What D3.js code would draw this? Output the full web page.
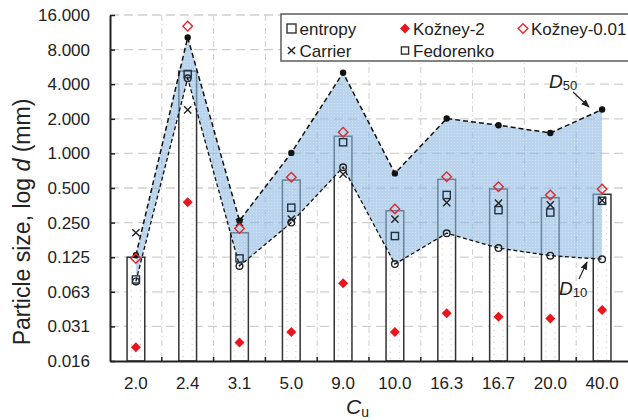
<!DOCTYPE html>
<html>
<head>
<meta charset="utf-8">
<script src="https://cdn.jsdelivr.net/npm/d3@7"></script>
<style>
  html, body { margin: 0; padding: 0; background: #fff; }
  svg { display: block; font-family: "Liberation Sans", Arial, sans-serif; }
</style>
</head>
<body>
<svg id="chart" width="628" height="420"></svg>
<script>
// Uniformity coefficient categories
const categories = ["2.0", "2.4", "3.1", "5.0", "9.0", "10.0", "16.3", "16.7", "20.0", "40.0"];

// Characteristic grain sizes (mm)
const d50 = [0.13, 10.2, 0.26, 1.01, 5.03, 0.67, 2.01, 1.76, 1.505, 2.41];
const d10 = [0.077, 4.5, 0.105, 0.25, 0.758, 0.109, 0.202, 0.15, 0.129, 0.12];

// Effective pore-size estimates (mm)
const entropy    = [0.125, 5.2, 0.204, 0.586, 1.41, 0.317, 0.595, 0.49, 0.412, 0.441];
const kozney2    = [0.0206, 0.376, 0.0226, 0.028, 0.0741, 0.028, 0.0406, 0.038, 0.0367, 0.0433];
const kozney001  = [0.122, 12.8, 0.222, 0.62, 1.53, 0.328, 0.627, 0.513, 0.435, 0.49];
const carrier    = [0.204, 2.39, 0.25, 0.268, 0.66, 0.268, 0.373, 0.369, 0.356, 0.39];
const fedorenko  = [0.08, 4.9, 0.122, 0.337, 1.25, 0.191, 0.435, 0.321, 0.306, 0.387];

// Log-2 axis ticks
const yTicks      = [16, 8, 4, 2, 1, 0.5, 0.25, 0.125, 0.0625, 0.03125, 0.015625];
const yTickLabels = ["16.000", "8.000", "4.000", "2.000", "1.000", "0.500", "0.250", "0.125", "0.063", "0.031", "0.016"];

const svg = d3.select("#chart");
const plotL = 110, plotR = 628, plotT = 15, plotB = 361;

const x = d3.scaleBand().domain(categories).range([plotL, plotR]).padding(0);
const y = d3.scaleLog().base(2).domain([0.015625, 16]).range([plotB, plotT]);
const cx = i => x(categories[i]) + x.bandwidth() / 2;
const barW = x.bandwidth() * 0.342;

const defs = svg.append("defs");
const grain = defs.append("pattern")
  .attr("id", "bandGrain").attr("patternUnits", "userSpaceOnUse")
  .attr("width", 3).attr("height", 3);
grain.append("rect").attr("width", 3).attr("height", 3).attr("fill", "#8ab8e0");
grain.append("rect").attr("x", 1).attr("y", 1).attr("width", 1).attr("height", 1)
  .attr("fill", "#ffffff").attr("opacity", 0.35);

// Horizontal grid
svg.append("g").selectAll("line").data(yTicks.slice(0, -1)).join("line")
  .attr("x1", plotL).attr("x2", plotR)
  .attr("y1", d => y(d)).attr("y2", d => y(d))
  .attr("stroke", "#cfcfcf").attr("stroke-width", 1.3)
  .attr("stroke-dasharray", "9,5");

// Vertical grid at category boundaries
const bounds = categories.slice(1).map(c => x(c));
svg.append("g").selectAll("line").data(bounds).join("line")
  .attr("x1", d => d).attr("x2", d => d)
  .attr("y1", plotT).attr("y2", plotB)
  .attr("stroke", "#cfcfcf").attr("stroke-width", 1)
  .attr("stroke-dasharray", "6,3,1,3");

// Entropy bars
const bars = svg.append("g");
bars.selectAll("rect").data(entropy).join("rect")
  .attr("x", (d, i) => cx(i) - barW / 2)
  .attr("y", d => y(d))
  .attr("width", barW)
  .attr("height", d => plotB - y(d))
  .attr("fill", "#ffffff")
  .attr("stroke", "#333")
  .attr("stroke-width", 1.5);
[-4.5, 4.5].forEach(off => {
  bars.append("g").selectAll("line").data(entropy).join("line")
    .attr("x1", (d, i) => cx(i) + off).attr("x2", (d, i) => cx(i) + off)
    .attr("y1", d => y(d) + 3).attr("y2", plotB)
    .attr("stroke", "#c4c4c4").attr("stroke-width", 1)
    .attr("stroke-dasharray", "1,5");
});

// D10–D50 band
const idx = d3.range(categories.length);
svg.append("path")
  .datum(idx)
  .attr("d", d3.area().x(i => cx(i)).y0(i => y(d10[i])).y1(i => y(d50[i])))
  .attr("fill", "url(#bandGrain)")
  .attr("opacity", 0.6);

// D50 and D10 curves
svg.append("path").datum(idx)
  .attr("d", d3.line().x(i => cx(i)).y(i => y(d50[i])))
  .attr("fill", "none").attr("stroke", "#111").attr("stroke-width", 1.5)
  .attr("stroke-dasharray", "5,3");
svg.append("path").datum(idx)
  .attr("d", d3.line().x(i => cx(i)).y(i => y(d10[i])))
  .attr("fill", "none").attr("stroke", "#111").attr("stroke-width", 1.3)
  .attr("stroke-dasharray", "4,2.5");

// Axes
const yAxis = d3.axisLeft(y).tickValues(yTicks)
  .tickFormat((d, i) => yTickLabels[i]).tickSizeInner(-5).tickSizeOuter(0).tickPadding(20);
const gy = svg.append("g").attr("transform", `translate(${plotL},0)`).call(yAxis);
gy.select(".domain").attr("stroke", "#222").attr("stroke-width", 2);
gy.selectAll(".tick line").attr("stroke", "#222").attr("stroke-width", 1.5);
gy.selectAll("text").attr("font-size", 17).attr("fill", "#222");

const xAxis = d3.axisBottom(x).tickSize(0).tickPadding(16);
const gx = svg.append("g").attr("transform", `translate(0,${plotB})`).call(xAxis);
gx.select(".domain").attr("stroke", "#222").attr("stroke-width", 2);
gx.selectAll("text").attr("font-size", 17).attr("fill", "#222");
svg.append("g").selectAll("line").data(bounds).join("line")
  .attr("x1", d => d).attr("x2", d => d)
  .attr("y1", plotB).attr("y2", plotB - 4)
  .attr("stroke", "#222").attr("stroke-width", 1.5);

// Markers
const diamond = r => `M0,${-r}L${r},0L0,${r}L${-r},0Z`;
const cross = r => `M${-r},${-r}L${r},${r}M${-r},${r}L${r},${-r}`;
const mk = svg.append("g");

mk.selectAll(".d50").data(d50).join("circle").attr("class", "d50")
  .attr("cx", (d, i) => cx(i)).attr("cy", d => y(d)).attr("r", 3.2).attr("fill", "#111");
mk.selectAll(".d10").data(d10).join("circle").attr("class", "d10")
  .attr("cx", (d, i) => cx(i)).attr("cy", d => y(d)).attr("r", 3.3)
  .attr("fill", "none").attr("stroke", "#222").attr("stroke-width", 1.4);
mk.selectAll(".fed").data(fedorenko).join("rect").attr("class", "fed")
  .attr("x", (d, i) => cx(i) - 3.6).attr("y", d => y(d) - 3.6)
  .attr("width", 7.2).attr("height", 7.2)
  .attr("fill", "none").attr("stroke", "#223344").attr("stroke-width", 1.4);
mk.selectAll(".car").data(carrier).join("path").attr("class", "car")
  .attr("transform", (d, i) => `translate(${cx(i)},${y(d)})`)
  .attr("d", cross(3.6)).attr("stroke", "#222").attr("stroke-width", 1.4).attr("fill", "none");
mk.selectAll(".k2").data(kozney2).join("path").attr("class", "k2")
  .attr("transform", (d, i) => `translate(${cx(i)},${y(d)})`)
  .attr("d", diamond(5)).attr("fill", "#e8161c");
mk.selectAll(".k001").data(kozney001).join("path").attr("class", "k001")
  .attr("transform", (d, i) => `translate(${cx(i)},${y(d)})`)
  .attr("d", diamond(4.8)).attr("fill", "none").attr("stroke", "#e02a30").attr("stroke-width", 1.4);

// Curve labels with arrows
defs.append("marker").attr("id", "arrow").attr("viewBox", "0 0 10 10")
  .attr("refX", 9).attr("refY", 5).attr("markerWidth", 7).attr("markerHeight", 7)
  .attr("orient", "auto")
  .append("path").attr("d", "M0,1L10,5L0,9Z").attr("fill", "#222");

function curveLabel(tx, ty, sub, x1, y1, x2, y2) {
  const t = svg.append("text").attr("x", tx).attr("y", ty).attr("fill", "#222");
  t.append("tspan").text("D").attr("font-style", "italic").attr("font-size", 19);
  t.append("tspan").text(sub).attr("font-size", 13).attr("dy", 2);
  svg.append("line").attr("x1", x1).attr("y1", y1).attr("x2", x2).attr("y2", y2)
    .attr("stroke", "#222").attr("stroke-width", 1.2).attr("marker-end", "url(#arrow)");
}
curveLabel(549, 88, "50", 573, 92, 589, 107);
curveLabel(559, 295, "10", 579, 279, 587, 262);

// Axis titles
svg.append("text")
  .attr("transform", "translate(30,222) rotate(-90)")
  .attr("text-anchor", "middle").attr("font-size", 23).attr("fill", "#222")
  .call(t => {
    t.append("tspan").text("Particle size, log ");
    t.append("tspan").text("d").attr("font-style", "italic");
    t.append("tspan").text(" (mm)");
  });
svg.append("text").attr("x", 346).attr("y", 414).attr("fill", "#222")
  .call(t => {
    t.append("tspan").text("C").attr("font-style", "italic").attr("font-size", 21);
    t.append("tspan").text("u").attr("font-size", 14).attr("dy", 3);
  });

// Legend
const lg = svg.append("g");
lg.append("rect").attr("x", 281).attr("y", 14).attr("width", 360).attr("height", 47)
  .attr("fill", "#fff").attr("stroke", "#666").attr("stroke-width", 1.6);
const legendItems = [
  { name: "entropy",      col: 0, row: 0, kind: "bar" },
  { name: "Kožney-2",     col: 1, row: 0, kind: "k2" },
  { name: "Kožney-0.01",  col: 2, row: 0, kind: "k001" },
  { name: "Carrier",      col: 0, row: 1, kind: "car" },
  { name: "Fedorenko",    col: 1, row: 1, kind: "fed" }
];
const colX = [291.5, 405, 523], rowY = [28.5, 50.5];
legendItems.forEach(it => {
  const g = lg.append("g").attr("transform", `translate(${colX[it.col]},${rowY[it.row]})`);
  if (it.kind === "bar") g.append("rect").attr("x", -4.5).attr("y", -4.5).attr("width", 9).attr("height", 9)
    .attr("fill", "none").attr("stroke", "#333").attr("stroke-width", 1.4);
  if (it.kind === "fed") g.append("rect").attr("x", -3.6).attr("y", -3.6).attr("width", 7.2).attr("height", 7.2)
    .attr("fill", "none").attr("stroke", "#333").attr("stroke-width", 1.4);
  if (it.kind === "car") g.append("path").attr("d", cross(3.6)).attr("stroke", "#222").attr("stroke-width", 1.4);
  if (it.kind === "k2") g.append("path").attr("d", diamond(5)).attr("fill", "#e8161c");
  if (it.kind === "k001") g.append("path").attr("d", diamond(4.8)).attr("fill", "none")
    .attr("stroke", "#e02a30").attr("stroke-width", 1.4);
  g.append("text").attr("x", 8).attr("y", 6).attr("font-size", 17).attr("fill", "#222").text(it.name);
});
</script>
</body>
</html>
